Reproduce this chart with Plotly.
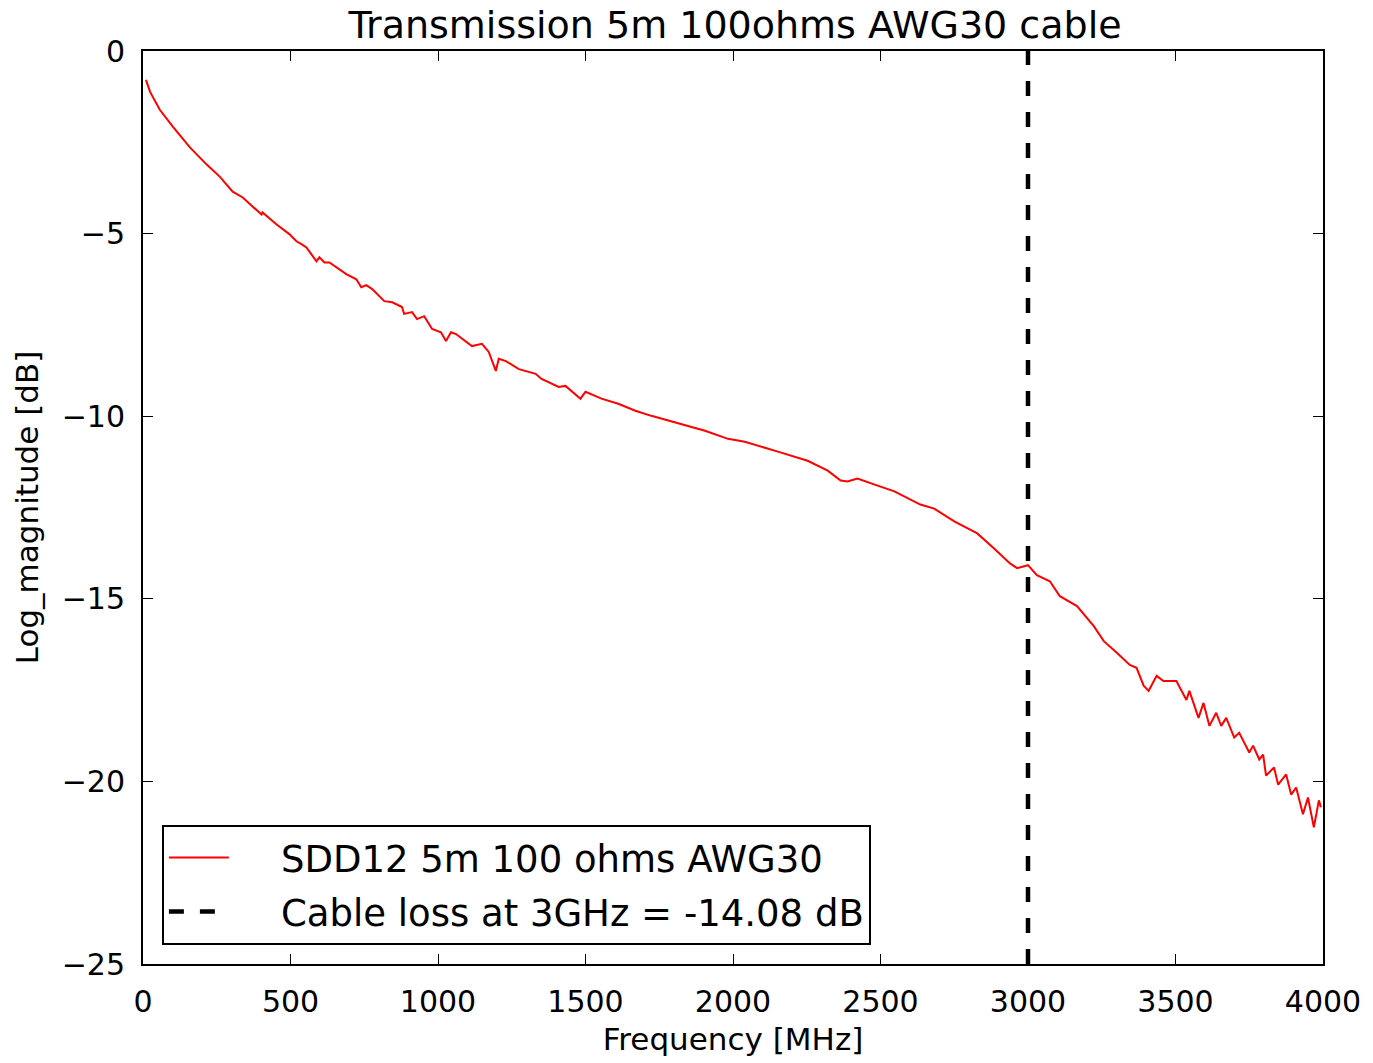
import plotly.graph_objects as go

# Measured differential transmission (SDD12) of a 5 m, 100 ohm AWG30 cable
freq_mhz = [
    10, 24, 57, 101, 159, 216, 260, 304, 338, 372, 402, 405, 453, 497, 520,
    537, 554, 571, 588, 598, 615, 632, 689, 723, 740, 757, 777, 818, 845,
    878, 885, 912, 929, 953, 980, 1010, 1027, 1044, 1061, 1115, 1149, 1172,
    1196, 1206, 1230, 1274, 1331, 1351, 1385, 1409, 1432, 1483, 1500, 1554,
    1611, 1669, 1723, 1780, 1838, 1905, 1983, 2040, 2152, 2253, 2321, 2365,
    2388, 2422, 2490, 2547, 2635, 2682, 2750, 2828, 2885, 2939, 2963, 3000,
    3030, 3074, 3108, 3166, 3223, 3257, 3301, 3345, 3368, 3392, 3409, 3436,
    3459, 3503, 3537, 3547, 3578, 3595, 3615, 3638, 3655, 3672, 3699, 3716,
    3750, 3763, 3784, 3797, 3807, 3834, 3848, 3875, 3892, 3909, 3932, 3949,
    3969, 3986, 3993,
]
sdd12_db = [
    -0.79, -1.12, -1.61, -2.07, -2.64, -3.11, -3.44, -3.85, -4.01, -4.26,
    -4.48, -4.42, -4.75, -5.02, -5.21, -5.29, -5.38, -5.57, -5.76, -5.65,
    -5.79, -5.79, -6.11, -6.25, -6.47, -6.41, -6.52, -6.85, -6.88, -7.01,
    -7.20, -7.15, -7.34, -7.26, -7.61, -7.70, -7.94, -7.70, -7.75, -8.08,
    -8.02, -8.24, -8.76, -8.43, -8.49, -8.71, -8.84, -8.98, -9.11, -9.20,
    -9.17, -9.52, -9.33, -9.52, -9.66, -9.85, -9.99, -10.12, -10.26, -10.40,
    -10.62, -10.70, -10.97, -11.22, -11.49, -11.76, -11.79, -11.71, -11.90,
    -12.06, -12.42, -12.53, -12.88, -13.21, -13.62, -14.03, -14.16, -14.08,
    -14.35, -14.52, -14.93, -15.20, -15.75, -16.16, -16.48, -16.81, -16.89,
    -17.38, -17.52, -17.11, -17.25, -17.25, -17.77, -17.52, -18.26, -17.85,
    -18.48, -18.12, -18.48, -18.26, -18.80, -18.67, -19.21, -19.02, -19.40,
    -19.27, -19.84, -19.62, -20.09, -19.81, -20.36, -20.17, -20.90, -20.44,
    -21.26, -20.52, -20.71,
]

# Marker at the 3 GHz point of interest
cutoff_mhz = 3000
cutoff_loss_db = -14.08
y_range = [-25, 0]

x_ticks = [0, 500, 1000, 1500, 2000, 2500, 3000, 3500, 4000]
y_ticks = [0, -5, -10, -15, -20, -25]
y_tick_text = ["0", "\u22125", "\u221210", "\u221215", "\u221220", "\u221225"]

FONT = "DejaVu Sans"
PAD = "\u00a0\u00a0\u00a0\u00a0"  # gap between legend sample and label

fig = go.Figure()
fig.add_trace(go.Scatter(
    x=freq_mhz, y=sdd12_db, mode="lines",
    line=dict(color="#ff0000", width=2),
    name=PAD + "SDD12 5m 100 ohms AWG30",
    legendgroup="meas",
))
fig.add_trace(go.Scatter(
    x=[cutoff_mhz, cutoff_mhz], y=y_range, mode="lines",
    line=dict(color="black", width=4.5, dash="15px,16px"),
    name=PAD + f"Cable loss at 3GHz = {cutoff_loss_db:.2f} dB",
    legendgroup="cutoff",
))

axis_common = dict(
    showline=True, linecolor="black", linewidth=2, mirror="ticks",
    ticks="inside", ticklen=10, tickwidth=1, tickcolor="black",
    showgrid=False, zeroline=False,
    tickfont=dict(family=FONT, size=30, color="black"),
    ticklabelstandoff=10,
)

fig.update_layout(
    width=1373, height=1063,
    margin=dict(l=143, r=41, t=51, b=91),
    plot_bgcolor="white", paper_bgcolor="white",
    font=dict(family=FONT, color="black"),
    title=dict(
        text="Transmission 5m 100ohms AWG30 cable",
        font=dict(family=FONT, size=38, color="black"),
        x=(143 + 1327) / 2 / 1373, xanchor="center",
        y=1 - 25 / 1063, yanchor="middle", yref="container",
    ),
    xaxis=dict(
        range=[0, 4000], tickvals=x_ticks,
        title=dict(text="Frequency [MHz]", font=dict(family=FONT, size=31), standoff=10),
        **axis_common,
    ),
    yaxis=dict(
        range=y_range, tickvals=y_ticks, ticktext=y_tick_text,
        title=dict(text="Log_magnitude [dB]", font=dict(family=FONT, size=31), standoff=14),
        **axis_common,
    ),
    legend=dict(
        x=0.016, y=0.021, xanchor="left", yanchor="bottom",
        bgcolor="white", bordercolor="black", borderwidth=2,
        font=dict(family=FONT, size=37, color="black"),
        itemwidth=60, traceorder="grouped", tracegroupgap=3,
    ),
    showlegend=True,
)

fig.write_html("out.html")
